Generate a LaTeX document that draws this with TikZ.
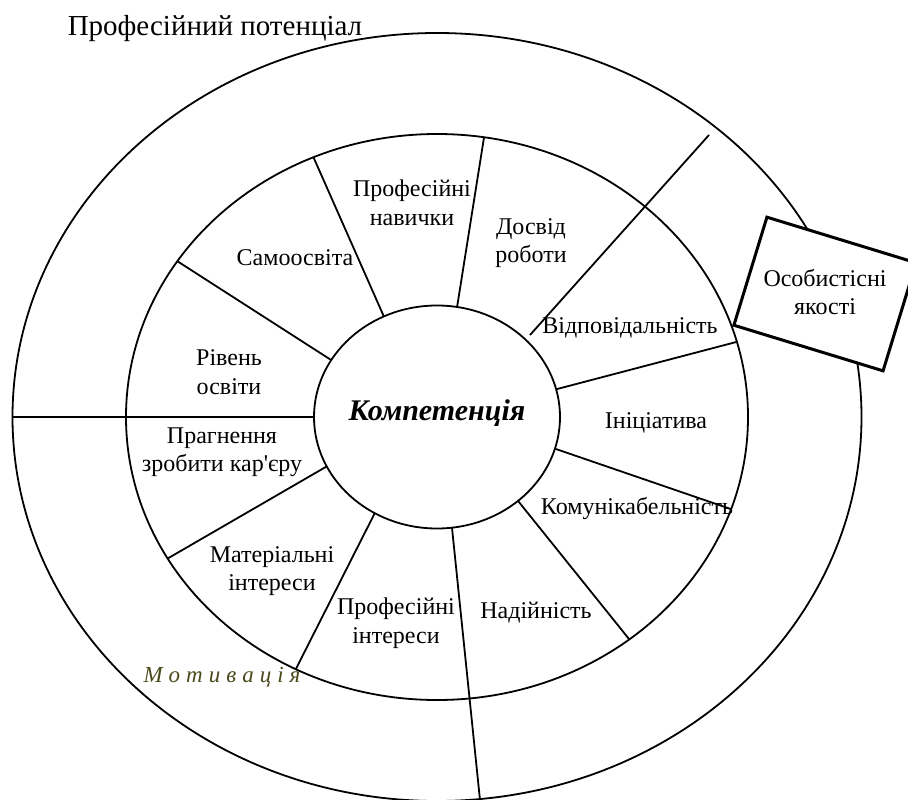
\documentclass[tikz,border=0pt]{standalone}
\usepackage{fontspec}
\setmainfont{Liberation Serif}[Ligatures=TeXOff]
\usetikzlibrary{shapes.geometric,calc}
\definecolor{motiv}{RGB}{74,74,28}
\begin{document}
\begin{tikzpicture}[x=1pt,y=-1pt, line width=1.8pt,
  lbl/.style={align=center, font=\fontsize{24}{28.5}\selectfont, inner sep=0pt},
  spoke/.style={line width=1.8pt},
  ring/.style={line width=1.8pt}]
\useasboundingbox (0,0) rectangle (908,800);
\coordinate (C) at (437,417);
% rings
\draw[ring] (C) ellipse [x radius=424.5, y radius=384];
\draw[ring] (C) ellipse [x radius=311, y radius=283];
\node[ellipse, draw, ring, minimum width=246pt, minimum height=223pt, inner sep=0pt, outer sep=0pt] (core) at (C) {};
\node[font=\bfseries\itshape\fontsize{30}{34}\selectfont, inner sep=0pt] (coretxt) at (437,413) {Компетенція};
% spokes between inner and middle ring
\foreach \a/\b [count=\i] in {-80.6/-81.3, -115.6/-113.4, -149.3/-146.6, 153.7/150, 120.4/117, 48.8/51.8, 16.5/19, -14.4/-15.4} {
  \path (C) ++({123*cos(\a)},{111.5*sin(\a)}) coordinate (si\i);
  \path (C) ++({311*cos(\b)},{283*sin(\b)}) coordinate (so\i);
  \draw[spoke] (si\i) -- (so\i);
}
% horizontal spoke to outer ring
\path (C) ++(-123,0) coordinate (h1);
\path (C) ++(-424.5,0) coordinate (h2);
\draw[spoke] (h1) -- (h2);
% long bottom spoke
\path (C) ++({123*cos(83)},{111.5*sin(83)}) coordinate (b1);
\path (C) ++({424.5*cos(84.2)},{384*sin(84.2)}) coordinate (b2);
\draw[spoke] (b1) -- (b2);
% long diagonal
\coordinate (d1) at (530,335);
\coordinate (d2) at (709,135);
\draw[spoke] (d1) -- (d2);
% personal qualities box
\node[draw, fill=white, rotate=-17, minimum width=156pt, minimum height=113pt, line width=3pt] (box) at (825,294) {};
\node[lbl] (boxtxt) at (825,292) {Особистісні\\якості};
% title
\node[font=\fontsize{29}{33}\selectfont, inner sep=0pt, anchor=base] (title) at (215,36) {Професійний потенціал};
% labels
\node[lbl] (l1) at (412,203) {Професійні\\навички};
\node[lbl] (l2) at (295,258) {Самоосвіта};
\node[lbl] (l3) at (229,372) {Рівень\\освіти};
\node[lbl] (l4) at (531,243) {Досвід\\роботи};
\node[lbl] (l5) at (630,328) {Відповідальність};
\node[lbl] (l6) at (656,423) {Ініціатива};
\node[lbl] (l7) at (637,508) {Комунікабельність};
\node[lbl] (l8) at (536,613) {Надійність};
\node[lbl] (l9) at (396,623) {Професійні\\інтереси};
\node[lbl] (l10) at (272,571) {Матеріальні\\інтереси};
\node[lbl] (l11) at (222,452) {Прагнення\\зробити кар'єру};
\node[inner sep=0pt, text=motiv, font=\itshape\fontsize{23}{26}\selectfont, anchor=base] (mot) at (222,682) {М\hspace{6pt}о\hspace{6pt}т\hspace{6pt}и\hspace{6pt}в\hspace{6pt}а\hspace{6pt}ц\hspace{6pt}і\hspace{6pt}я};
\end{tikzpicture}
\end{document}
